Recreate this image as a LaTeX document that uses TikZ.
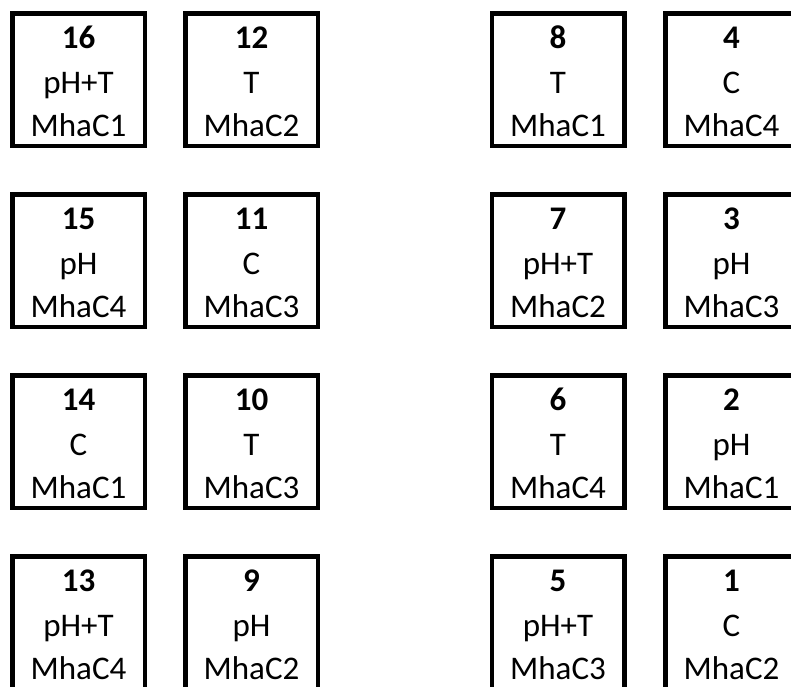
\documentclass[tikz,border=0pt]{standalone}
\usepackage{fontspec}
\setmainfont{Carlito}
\begin{document}
\begin{tikzpicture}[x=1pt,y=-1pt,
  cell/.style={draw=black,line width=4.5pt,minimum width=132.5pt,minimum height=132.5pt,inner sep=0pt,fill=white},
  txt/.style={anchor=base,inner sep=0pt,font=\fontsize{33}{39}\selectfont},
  num/.style={txt,font=\fontsize{33}{39}\selectfont\bfseries}]
\useasboundingbox (0,0) rectangle (791,686);
\foreach \n/\cx/\cy/\a/\b in {
  16/78.5/11/pH+T/MhaC1, 12/251.5/11/T/MhaC2, 8/558/11/T/MhaC1, 4/731.5/11/C/MhaC4,
  15/78.5/192/pH/MhaC4, 11/251.5/192/C/MhaC3, 7/558/192/pH+T/MhaC2, 3/731.5/192/pH/MhaC3,
  14/78.5/373/C/MhaC1, 10/251.5/373/T/MhaC3, 6/558/373/T/MhaC4, 2/731.5/373/pH/MhaC1,
  13/78.5/554/pH+T/MhaC4, 9/251.5/554/pH/MhaC2, 5/558/554/pH+T/MhaC3, 1/731.5/554/C/MhaC2}{
  \node[cell] (b\n) at (\cx,\cy+68.5) {};
  \node[num] (n\n) at (\cx,\cy+37) {\n};
  \node[txt] (c\n) at (\cx,\cy+82) {\a};
  \node[txt] (m\n) at (\cx,\cy+125) {\b};
}
\end{tikzpicture}
\end{document}
